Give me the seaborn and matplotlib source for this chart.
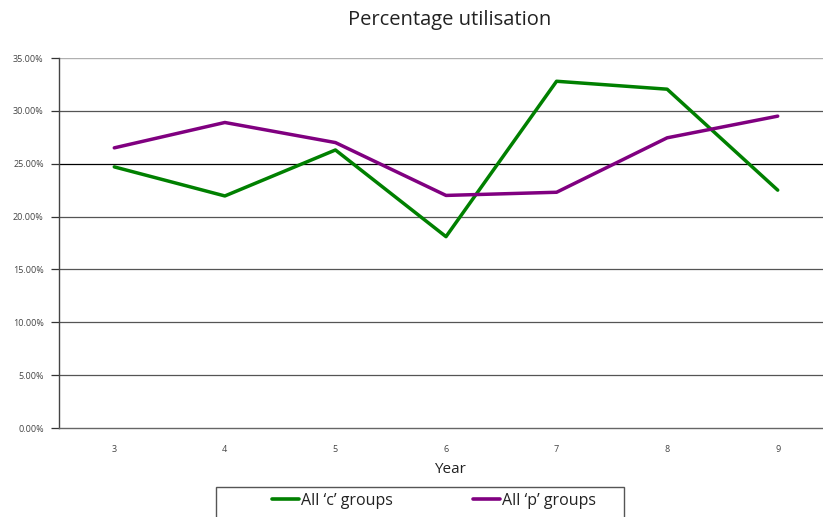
import matplotlib
matplotlib.use("Agg")
import matplotlib.pyplot as plt
from matplotlib.lines import Line2D
from matplotlib.patches import Rectangle
import seaborn as sns
import pandas as pd
import numpy as np

# Utilisation by year for the two group families (percent)
years = [3, 4, 5, 6, 7, 8, 9]
c_groups = [24.7, 21.95, 26.3, 18.1, 32.8, 32.05, 22.5]
p_groups = [26.5, 28.9, 27.0, 22.0, 22.3, 27.45, 29.5]
y_ticks = [0, 5, 10, 15, 20, 25, 30, 35]
y_tick_labels = ["0.00%", "5.00%", "10.00%", "15.00%", "20.00%", "25.00%", "30.00%", "35.00%"]
series_names = ["All \u2018c\u2019 groups", "All \u2018p\u2019 groups"]
colors = ["#008000", "#800080"]

sns.set_style("white")
plt.rcParams["font.family"] = ["Open Sans", "DejaVu Sans"]

df = pd.DataFrame({
    "pos": list(range(len(years))) * 2,
    "value": c_groups + p_groups,
    "series": [series_names[0]] * len(years) + [series_names[1]] * len(years),
})

W, H = 823, 517
fig = plt.figure(figsize=(W / 100, H / 100), dpi=100)
ax = fig.add_axes([59 / W, 89 / H, (833 - 59) / W, 370 / H])

# gridlines behind the series
for t in y_ticks:
    if t == 35:
        col, lw = "#b0b0b0", 1.0
    elif t == 25:
        col, lw = "#000000", 0.9
    else:
        col, lw = "#555555", 0.9
    if t > 0:
        ax.axhline(t, color=col, lw=lw, zorder=0)

sns.lineplot(data=df, x="pos", y="value", hue="series",
             palette=colors, linewidth=2.5, ax=ax,
             legend=False, zorder=3)

ax.set_xlim(-0.5, len(years) - 0.5)
ax.set_ylim(0, 35)
ax.set_yticks(y_ticks)
ax.set_yticklabels(y_tick_labels, fontsize=6.5, color="#444444")
ax.set_xticks(range(len(years)))
ax.set_xticklabels([str(y) for y in years], fontsize=6.5, color="#444444")
ax.set_xticks(np.arange(-0.5, len(years), 1), minor=True)
ax.tick_params(axis="x", which="major", length=0, pad=12)
ax.tick_params(axis="x", which="minor", length=4, width=0.9, color="#333333", direction="out")
ax.tick_params(axis="y", length=6, width=0.9, color="#333333", direction="out", pad=5, left=True)

for s in ["top", "right"]:
    ax.spines[s].set_visible(False)
ax.spines["left"].set_color("#444444")
ax.spines["left"].set_linewidth(1.0)
ax.spines["bottom"].set_color("#666666")
ax.spines["bottom"].set_linewidth(1.0)

ax.set_xlabel("Year", fontsize=11, color="#222222")
ax.set_ylabel("")
ax.xaxis.set_label_coords((450 - 59) / (833 - 59), -0.093)

fig.text(450 / W, 1 - 20 / H, "Percentage utilisation", ha="center", va="center",
         fontsize=14.5, color="#222222")

# legend box along the bottom edge
fig.patches.append(Rectangle((216 / W, -0.05), (624 - 216) / W, 0.05 + (517 - 487) / H,
                             transform=fig.transFigure, fill=False,
                             edgecolor="#555555", linewidth=1.0))
handles = [Line2D([], [], color=c, lw=2.6) for c in colors]
fig.legend(handles, series_names,
           loc="center left", bbox_to_anchor=(272 / W, 1 - 501 / H),
           ncol=2, frameon=False, fontsize=11.5, handlelength=1.7,
           handletextpad=0.12, columnspacing=5.0, borderpad=0.0,
           borderaxespad=0.0, labelcolor="#222222")

fig.savefig("out.png", dpi=100)
